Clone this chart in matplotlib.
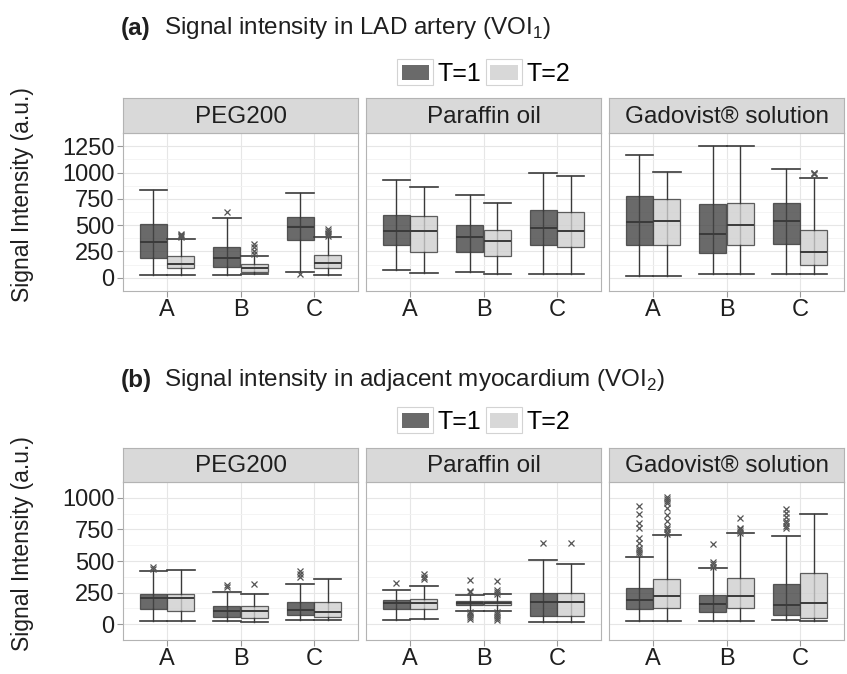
import numpy as np
import matplotlib.pyplot as plt
from matplotlib.patches import Patch, Rectangle
from matplotlib.legend_handler import HandlerBase

plt.rcParams['font.family'] = ['Liberation Sans', 'DejaVu Sans']
plt.rcParams['mathtext.fontset'] = 'custom'
plt.rcParams['mathtext.rm'] = 'Liberation Sans'

facets = ["PEG200", "Paraffin oil", "Gadovist® solution"]
cats = ["A", "B", "C"]
groups = ["T=1", "T=2"]

# values per box, order: PEG200 A,B,C | Paraffin oil A,B,C | Gadovist A,B,C
# (a) LAD artery, T=1
a1_lo = [29, 26, 55, 72, 55, 32, 20, 40, 40]
a1_q1 = [184, 103, 362, 314, 245, 316, 308, 236, 325]
a1_med = [336, 184, 486, 443, 383, 471, 526, 420, 543]
a1_q3 = [515, 290, 581, 601, 506, 641, 773, 701, 710]
a1_hi = [831, 572, 805, 926, 782, 997, 1170, 1247, 1032]
a1_out = [[], [629], [40], [], [], [], [], [], []]
# (a) LAD artery, T=2
a2_lo = [26, 32, 28, 46, 32, 32, 20, 40, 32]
a2_q1 = [98, 60, 92, 245, 210, 293, 316, 308, 121]
a2_med = [135, 92, 141, 443, 345, 446, 540, 497, 241]
a2_q3 = [207, 127, 213, 586, 457, 624, 745, 710, 457]
a2_hi = [371, 204, 388, 862, 710, 963, 1003, 1256, 948]
a2_out = [[390, 400, 410, 420], [225, 250, 290, 320], [400, 415, 430, 445, 460],
          [], [], [], [], [], [985, 995, 1000]]

# (b) adjacent myocardium, T=1
b1_lo = [27, 27, 34, 34, 103, 21, 27, 27, 34]
b1_q1 = [119, 55, 69, 119, 153, 66, 123, 94, 69]
b1_med = [210, 103, 112, 169, 167, 172, 190, 160, 151]
b1_q3 = [235, 146, 174, 194, 181, 245, 290, 231, 320]
b1_hi = [418, 256, 320, 272, 229, 510, 528, 441, 700]
b1_out = [[435, 450], [295, 310], [370, 395, 420], [325],
          [350, 255, 265, 40, 55, 70, 85, 95], [645],
          [555, 570, 585, 600, 645, 680, 760, 800, 875, 935],
          [455, 475, 495, 635], [760, 780, 800, 820, 850, 880, 910]]
# (b) adjacent myocardium, T=2
b2_lo = [27, 21, 34, 39, 103, 21, 27, 27, 27]
b2_q1 = [101, 50, 57, 117, 151, 62, 126, 130, 48]
b2_med = [206, 101, 98, 167, 165, 174, 226, 220, 167]
b2_q3 = [238, 146, 176, 197, 181, 245, 359, 366, 405]
b2_hi = [432, 238, 354, 306, 240, 473, 704, 718, 874]
b2_out = [[], [318], [], [355, 375, 395],
          [338, 240, 255, 270, 35, 50, 65, 80, 95], [640],
          [715, 730, 750, 770, 815, 860, 920, 955, 975, 990, 1005],
          [725, 740, 755, 765, 840], []]

rows = [
    dict(title="Signal intensity in LAD artery (VOI$_1$)", tag="(a)",
         t1=(a1_lo, a1_q1, a1_med, a1_q3, a1_hi, a1_out),
         t2=(a2_lo, a2_q1, a2_med, a2_q3, a2_hi, a2_out),
         ticks=[0, 250, 500, 750, 1000, 1250], ylim=(-45, 1315)),
    dict(title="Signal intensity in adjacent myocardium (VOI$_2$)", tag="(b)",
         t1=(b1_lo, b1_q1, b1_med, b1_q3, b1_hi, b1_out),
         t2=(b2_lo, b2_q1, b2_med, b2_q3, b2_hi, b2_out),
         ticks=[0, 250, 500, 750, 1000], ylim=(-30, 1056)),
]

fills = ['#454545', '#cfcfcf']
box_alpha = 0.8
edge = '#3a3a3a'
txt = '#1f1f1f'
W, H = 847, 674
fig = plt.figure(figsize=(W / 100, H / 100), dpi=100)
fig.set_facecolor('white')


class KeyHandler(HandlerBase):
    # ggplot-like legend key: white square with grey border, fill inside
    def create_artists(self, legend, orig_handle, xdescent, ydescent,
                       width, height, fontsize, trans):
        bg = Rectangle((-xdescent - 3, -ydescent - 4), width + 6, height + 8,
                       facecolor='white', edgecolor='#d3d3d3', lw=0.8, transform=trans)
        fg = Rectangle((-xdescent, -ydescent), width, height,
                       facecolor=orig_handle.get_facecolor(), edgecolor='none',
                       transform=trans)
        return [bg, fg]


def px(x, y, w, h):
    return [x / W, 1 - (y + h) / H, w / W, h / H]

panel_x = [123, 366, 609]
panel_w = 235
row_y = [(98, 133, 291), (448, 482, 640)]   # strip top, plot top, plot bottom
title_y = [28, 380]
legend_y = [74, 422]
bw = 0.375

for r, row in enumerate(rows):
    st, pt, pb = row_y[r]
    fig.text(121 / W, 1 - title_y[r] / H, row['tag'], fontsize=17.5, fontweight='bold',
             va='center', ha='left', color=txt)
    fig.text(164 / W, 1 - title_y[r] / H, row['title'], fontsize=17.5,
             va='center', ha='left', color=txt)
    fig.text(23 / W, 1 - (st + pb) / 2 / H, "Signal Intensity (a.u.)", rotation=90,
             fontsize=16.5, va='center', ha='center', color=txt)
    handles = [Patch(facecolor=fills[0], alpha=box_alpha),
               Patch(facecolor=fills[1], alpha=box_alpha)]
    fig.legend(handles, groups, loc='center', ncol=2,
               bbox_to_anchor=(486 / W, 1 - legend_y[r] / H), frameon=False,
               fontsize=18, handlelength=1.1, handleheight=0.55, handletextpad=0.35,
               columnspacing=0.35, handler_map={Patch: KeyHandler()})
    for f in range(3):
        ax = fig.add_axes(px(panel_x[f], pt, panel_w, pb - pt))
        sx = fig.add_axes(px(panel_x[f], st, panel_w, pt - st))
        sx.set_facecolor('#d9d9d9')
        sx.set_xticks([]); sx.set_yticks([])
        for s in sx.spines.values():
            s.set_color('#b3b3b3')
        sx.text(0.5, 0.47, facets[f], transform=sx.transAxes, ha='center', va='center',
                fontsize=17.5, color=txt)

        for g, key in enumerate(['t1', 't2']):
            lo, q1, med, q3, hi, out = row[key]
            stats = []
            pos = []
            for c in range(3):
                i = f * 3 + c
                stats.append(dict(med=med[i], q1=q1[i], q3=q3[i], whislo=lo[i],
                                  whishi=hi[i], fliers=out[i]))
                pos.append(c + 1 + (g - 0.5) * bw)
            ax.vlines(pos, [s['q1'] for s in stats], [s['q3'] for s in stats],
                      color=edge, lw=1.0, zorder=2)
            ax.bxp(stats, positions=pos, widths=bw * 0.98, capwidths=bw, patch_artist=True,
                   manage_ticks=False, zorder=3,
                   boxprops=dict(facecolor=fills[g], alpha=box_alpha, edgecolor=edge, lw=0.9),
                   medianprops=dict(color=edge, lw=1.4),
                   whiskerprops=dict(color=edge, lw=1.0),
                   capprops=dict(color=edge, lw=1.2),
                   flierprops=dict(marker='x', markersize=5, markeredgecolor='#555555',
                                   markeredgewidth=0.9, linestyle='none'))
        ax.set_xlim(0.4, 3.6)
        ax.set_ylim(*row['ylim'])
        ax.set_xticks([1, 2, 3])
        ax.set_xticklabels(cats, fontsize=17, color=txt)
        ax.set_yticks(row['ticks'])
        minor = [t + 125 for t in row['ticks']] + [-125]
        ax.set_yticks(minor, minor=True)
        ax.tick_params(axis='both', color='#999999', width=0.8, length=4, pad=2)
        ax.tick_params(axis='y', which='minor', length=0)
        if f == 0:
            ax.set_yticklabels([str(t) for t in row['ticks']], fontsize=17, color=txt)
        else:
            ax.set_yticklabels([])
            ax.tick_params(axis='y', length=0)
        ax.grid(True, which='major', color='#e6e6e6', lw=0.8, zorder=0)
        ax.grid(True, which='minor', axis='y', color='#f2f2f2', lw=0.6, zorder=0)
        ax.set_axisbelow(True)
        for s in ax.spines.values():
            s.set_color('#b3b3b3')

fig.savefig('out.png', dpi=100)
